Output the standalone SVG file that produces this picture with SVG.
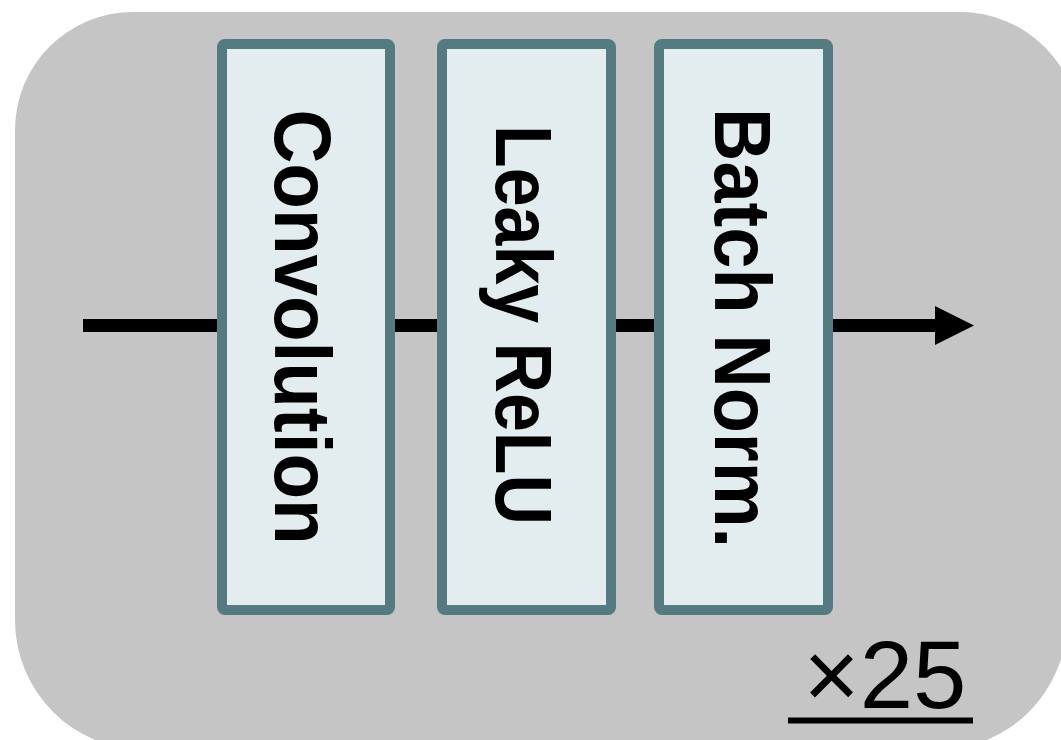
<svg xmlns="http://www.w3.org/2000/svg" width="1061" height="740" viewBox="0 0 1061 740">
  <style>
    .blk { fill: #e3ecef; stroke: #557b82; stroke-width: 10; }
    .lbl { font-family: "Liberation Sans", Arial, sans-serif; font-weight: bold; font-size: 80px; fill: #000; text-anchor: middle; dominant-baseline: central; }
    .wire { stroke: #000; stroke-width: 13; fill: none; }
  </style>
  <defs>
    <marker id="ah" markerUnits="userSpaceOnUse" markerWidth="40" markerHeight="40" refX="0" refY="20" orient="auto">
      <path d="M0,0.5 L39,20 L0,39.5 Z" fill="#000"/>
    </marker>
  </defs>
  <rect width="1061" height="740" fill="#ffffff"/>
  <g id="container">
    <path d="M133,12 L960,12 A120,120 0 0 1 1080,132 L1080,500 L1067,620 A130,130 0 0 1 937,750 L145,750 A130,130 0 0 1 15,620 L15,130 A118,118 0 0 1 133,12 Z" fill="#c4c5c4"/>
  </g>
  <g id="connectors">
    <line class="wire" x1="83" y1="325.5" x2="222" y2="325.5"/>
    <line class="wire" x1="390" y1="325.5" x2="442" y2="325.5"/>
    <line class="wire" x1="611" y1="325.5" x2="659" y2="325.5"/>
    <line class="wire" x1="828" y1="325.5" x2="935" y2="325.5" marker-end="url(#ah)"/>
  </g>
  <g id="conv">
    <rect class="blk" x="222" y="44" width="168" height="566" rx="3"/>
    <text class="lbl" transform="translate(302,327) rotate(90)" textLength="435" lengthAdjust="spacingAndGlyphs">Convolution</text>
  </g>
  <g id="relu">
    <rect class="blk" x="442" y="44" width="169" height="566" rx="3"/>
    <text class="lbl" transform="translate(523,325) rotate(90)" textLength="400" lengthAdjust="spacingAndGlyphs">Leaky ReLU</text>
  </g>
  <g id="bn">
    <rect class="blk" x="659" y="44" width="169" height="566" rx="3"/>
    <text class="lbl" transform="translate(742,328) rotate(90)" textLength="440" lengthAdjust="spacingAndGlyphs">Batch Norm.</text>
  </g>
  <g id="repeat">
    <text x="885" y="708" font-family="'Liberation Sans', Arial, sans-serif" font-size="96" text-anchor="middle" fill="#000">×25</text>
    <line x1="788" y1="720.5" x2="973" y2="720.5" stroke="#000" stroke-width="6"/>
  </g>
</svg>
